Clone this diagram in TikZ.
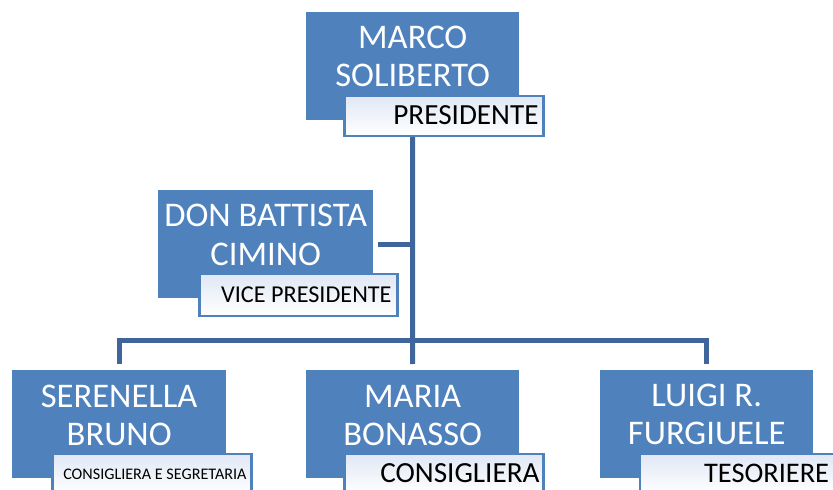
\documentclass[tikz,border=0pt]{standalone}
\usepackage{fontspec}
\setmainfont{Carlito}
\usetikzlibrary{backgrounds}
\definecolor{boxblue}{RGB}{79,129,189}
\definecolor{linkblue}{RGB}{64,101,155}
\definecolor{lblfill}{RGB}{224,232,244}
\begin{document}
\begin{tikzpicture}[x=1bp,y=-1bp,
  pbox/.style={fill=boxblue, inner sep=0pt, anchor=north west, minimum height=108bp},
  lbox/.style={draw=boxblue, line width=2.5bp, top color=lblfill, bottom color=white,
               minimum height=40bp, minimum width=199bp, inner sep=0pt},
  nametext/.style={text=white, inner sep=0pt, anchor=base, font=\fontsize{34.7}{38.5}\selectfont},
  ltext/.style={text=black, inner sep=0pt, anchor=east, text depth=0pt},
  link/.style={draw=linkblue, line width=5bp}]
\path[use as bounding box] (0,0) rectangle (833,490);
\clip (0,0) rectangle (833,490);

% main boxes
\node[pbox, minimum width=213bp] (top) at (306,12) {};
\node[pbox, minimum width=215bp] (vice) at (158,190) {};
\node[pbox, minimum width=214bp] (s1) at (12,370) {};
\node[pbox, minimum width=213bp] (s2) at (306,370) {};
\node[pbox, minimum width=213bp] (s3) at (600,370) {};

% names
\node[nametext] (top-n) at ([yshift=-36.5bp]top.north) {\begin{tabular}[t]{@{}c@{}}MARCO\\SOLIBERTO\end{tabular}};
\node[nametext] (vice-n) at ([yshift=-37bp]vice.north) {\begin{tabular}[t]{@{}c@{}}DON BATTISTA\\CIMINO\end{tabular}};
\node[nametext] (s1-n) at ([yshift=-37bp]s1.north) {\begin{tabular}[t]{@{}c@{}}SERENELLA\\BRUNO\end{tabular}};
\node[nametext] (s2-n) at ([yshift=-37bp]s2.north) {\begin{tabular}[t]{@{}c@{}}MARIA\\BONASSO\end{tabular}};
\node[nametext] (s3-n) at ([yshift=-36.5bp]s3.north) {\begin{tabular}[t]{@{}c@{}}LUIGI R.\\FURGIUELE\end{tabular}};

% role labels
\node[lbox] (top-l) at (444,116) {};
\node[lbox, minimum width=198bp, minimum height=42bp] (vice-l) at (298.5,295) {};
\node[lbox] (s1-l) at (152,474) {};
\node[lbox] (s2-l) at (444,474) {};
\node[lbox] (s3-l) at (739.5,474) {};

\node[ltext, text height=17.5bp, font=\fontsize{29.3}{34}\selectfont] (top-r) at ([xshift=-6bp]top-l.east) {PRESIDENTE};
\node[ltext, text height=14.5bp, font=\fontsize{24.3}{28}\selectfont] (vice-r) at ([xshift=-7bp]vice-l.east) {VICE PRESIDENTE};
\node[ltext, text height=10bp, font=\fontsize{16.2}{19}\selectfont] (s1-r) at ([xshift=-6bp]s1-l.east) {CONSIGLIERA E SEGRETARIA};
\node[ltext, text height=17.5bp, font=\fontsize{29.3}{34}\selectfont] (s2-r) at ([xshift=-5bp]s2-l.east) {CONSIGLIERA};
\node[ltext, text height=17.5bp, font=\fontsize{28.5}{34}\selectfont] (s3-r) at ([xshift=-11bp]s3-l.east) {TESORIERE};

% connectors
\coordinate (jv) at (412.5,244);
\coordinate (jb) at (412.5,340.5);
\begin{scope}[on background layer]
\draw[link] (top.south) -- (jb);
\draw[link, shorten <=5bp] (vice.east) -- (vice.east -| jv);
\draw[link, shorten <=6bp, shorten >=6bp] (s1.north) |- (jb) -| (s3.north);
\draw[link, shorten >=6bp] (jb) -- (s2.north);
\end{scope}
\end{tikzpicture}
\end{document}
